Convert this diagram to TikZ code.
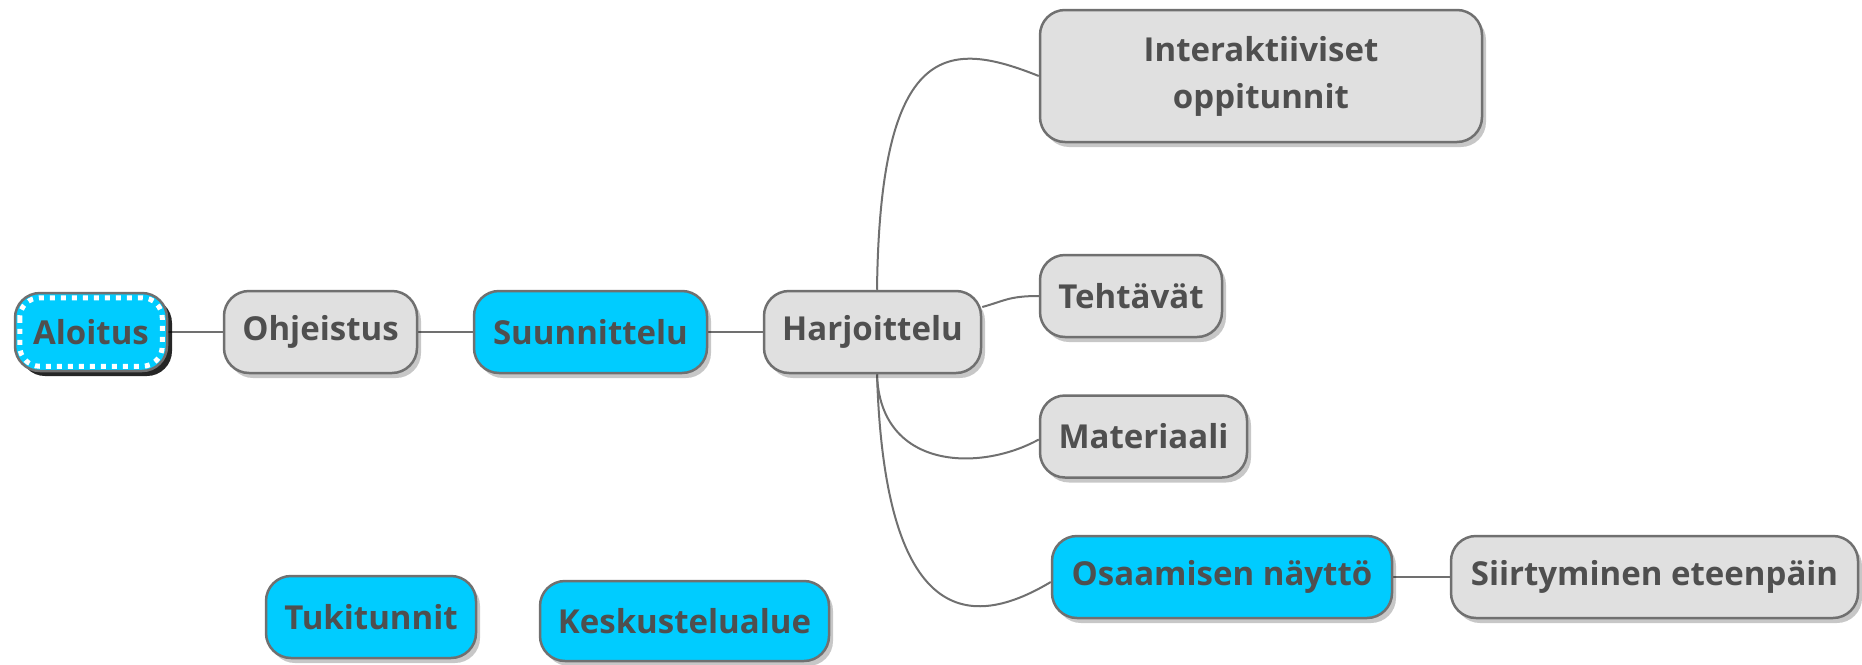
\documentclass[tikz,border=0pt]{standalone}
\usepackage{fontspec}
\setmainfont{Open Sans}
\usetikzlibrary{shadows}
\definecolor{nodegray}{HTML}{E0E0E0}
\definecolor{nodecyan}{HTML}{00CCFF}
\definecolor{bordergray}{HTML}{707070}
\definecolor{textgray}{HTML}{4F4F4F}
\definecolor{linegray}{HTML}{707070}
\pgfdeclarelayer{background}
\pgfsetlayers{background,main}
\tikzset{
  mmbox/.style={draw=bordergray, line width=2.5pt, rounded corners=25pt,
    text=textgray, font=\fontsize{33}{47}\selectfont\bfseries, align=center,
    inner sep=0pt, minimum height=82pt,
    drop shadow={shadow xshift=4pt, shadow yshift=-5pt, fill=black, opacity=0.22}},
  graybox/.style={mmbox, fill=nodegray},
  cyanbox/.style={mmbox, fill=nodecyan},
  startbox/.style={draw=bordergray, line width=2.5pt, rounded corners=25pt, fill=nodecyan,
    text=textgray, font=\fontsize{33}{47}\selectfont\bfseries, align=center,
    inner sep=0pt, minimum height=78pt,
    drop shadow={shadow xshift=5pt, shadow yshift=-5pt, fill=black, opacity=0.85}},
  link/.style={draw=linegray, line width=2pt}
}
\begin{document}
\begin{tikzpicture}[x=1pt,y=-1pt]
\useasboundingbox (0,0) rectangle (1862,664);
\node[startbox, minimum width=152pt] (alo) at (91,332) {Aloitus};
\draw[white, line width=5pt, dash pattern=on 5pt off 6pt, rounded corners=20pt]
  ([shift={(6pt,-6pt)}]alo.north west) rectangle ([shift={(-6pt,6pt)}]alo.south east);
\node[graybox, minimum width=193pt] (ohj) at (320.5,332) {Ohjeistus};
\node[cyanbox, minimum width=233pt] (suu) at (590.5,332) {Suunnittelu};
\node[graybox, minimum width=217pt] (har) at (872.5,332) {Harjoittelu};
\node[graybox, minimum width=442pt, minimum height=132pt] (int) at (1261,76) {Interaktiiviset\\oppitunnit};
\node[graybox, minimum width=182pt] (teh) at (1131,296) {Tehtävät};
\node[graybox, minimum width=207pt] (mat) at (1143.5,436.5) {Materiaali};
\node[cyanbox, minimum width=340pt] (osa) at (1222,577) {Osaamisen näyttö};
\node[graybox, minimum width=407pt] (sii) at (1654.5,577) {Siirtyminen eteenpäin};
\node[cyanbox, minimum width=210pt] (tuk) at (371,617) {Tukitunnit};
\node[cyanbox, minimum width=289pt, minimum height=80pt] (kes) at (684.5,621) {Keskustelualue};
\begin{pgfonlayer}{background}
\draw[link] (alo.east) -- (ohj.west);
\draw[link] (ohj.east) -- (suu.west);
\draw[link] (suu.east) -- (har.west);
\draw[link] ([xshift=4.5pt]har.north) .. controls +(3,-251) and +(-90,-36) .. (int.west);
\draw[link] ([yshift=25pt]har.east) .. controls +(22,-6) and +(-30,0) .. (teh.west);
\draw[link] ([xshift=4.5pt]har.south) .. controls +(3,95) and +(-60,33) .. ([yshift=-3pt]mat.west);
\draw[link] ([xshift=4.5pt]har.south) .. controls +(8,265) and +(-72,43) .. ([yshift=-5pt]osa.west);
\draw[link] (osa.east) -- (sii.west);
\end{pgfonlayer}
\end{tikzpicture}
\end{document}
